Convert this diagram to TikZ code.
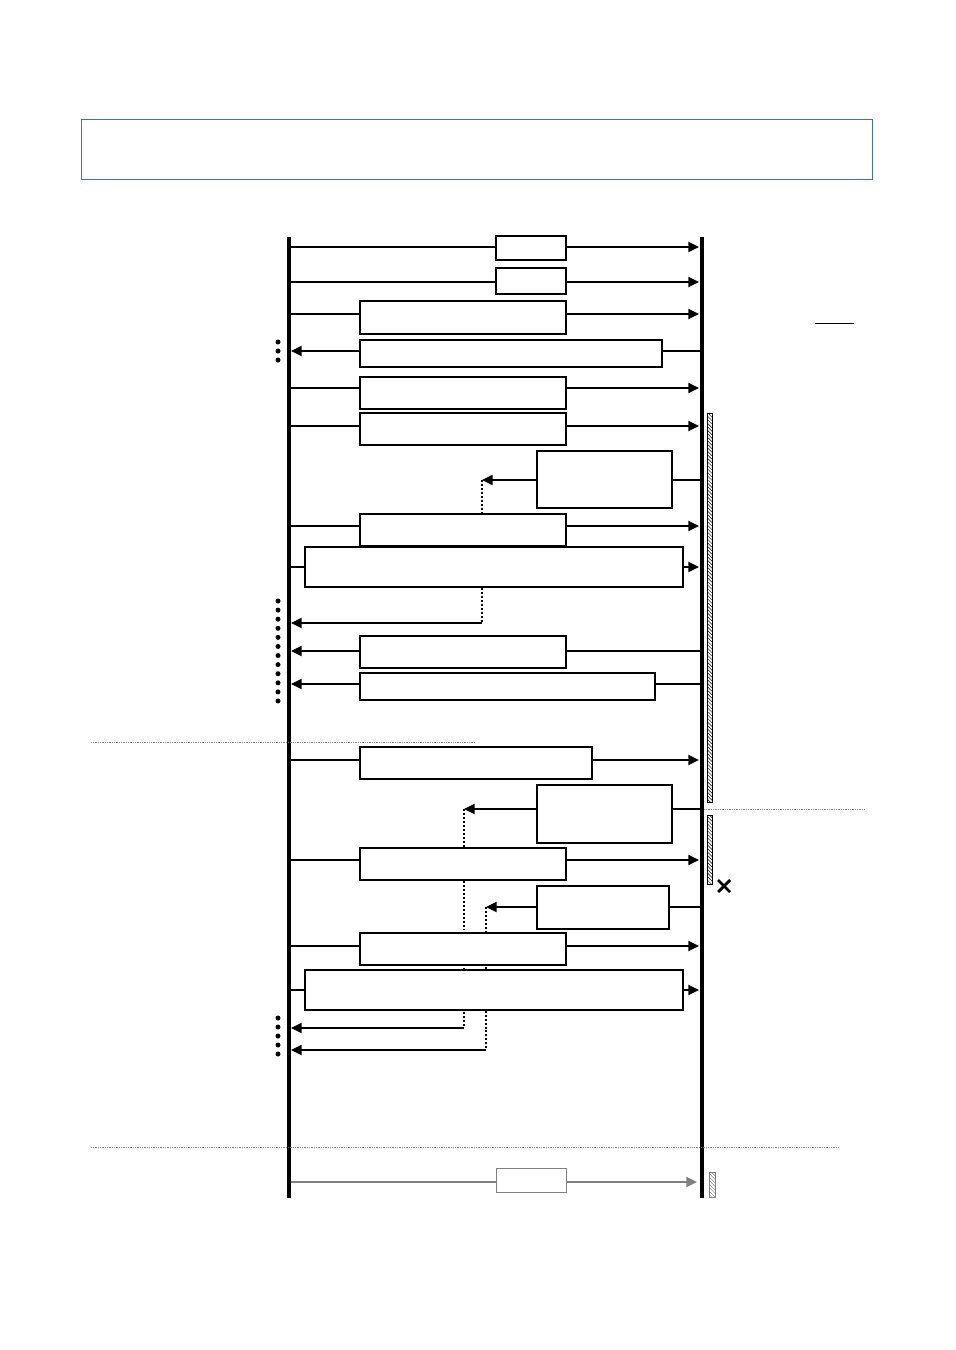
\documentclass[tikz,border=0pt]{standalone}
\usetikzlibrary{arrows.meta,fit,patterns}
\definecolor{hdrblue}{RGB}{65,105,225}
\pgfdeclarelayer{bg}
\pgfsetlayers{bg,main}
\tikzset{
  msgbox/.style={draw, line width=1.2pt, fill=white, inner sep=0pt},
  msg/.style={line width=1.6pt},
  toR/.style={msg, -{Triangle[length=3.2mm,width=3mm]}},
  toL/.style={msg, {Triangle[length=3.2mm,width=3mm]}-},
  reply/.style={line width=2pt, dash pattern=on 1.7pt off 1.7pt},
  sep/.style={gray, densely dotted, line width=0.5pt},
  busy/.style={draw, line width=0.8pt, pattern=north west lines}
}
\newcommand{\msgbox}[4][]{\node[msgbox, #1, fit={#3 #4}] (#2) {};}
\begin{document}
\begin{tikzpicture}[x=0.3mm, y=-0.3mm]
\useasboundingbox (0,0) rectangle (955,1350);
% header frame
\draw[hdrblue, line width=0.7pt] (81,119) rectangle (872,179);
% lifelines
\coordinate (Ltop) at (289,237); \coordinate (Lbot) at (289,1198);
\coordinate (Rtop) at (702,237); \coordinate (Rbot) at (702,1198);
\coordinate (L) at (291,0); \coordinate (R) at (699,0);
\draw[line width=2.6pt] (Ltop) -- (Lbot);
\draw[line width=3.4pt] (Rtop) -- (Rbot);
% first phase
\msgbox{m1}{(496,236)}{(566,260)}
\msgbox{m2}{(496,268)}{(566,294)}
\msgbox{m3}{(360,301)}{(566,334)}
\msgbox{m4}{(360,340)}{(662,367)}
\msgbox{m5}{(360,377)}{(566,409)}
\msgbox{m6}{(360,413)}{(566,445)}
\msgbox{r7}{(537,451)}{(672,508)}
\msgbox{m8}{(360,514)}{(566,546)}
\msgbox{m9}{(305,547)}{(683,587)}
\msgbox{m11}{(360,636)}{(566,668)}
\msgbox{m12}{(360,673)}{(655,700)}
% second phase
\msgbox{m13}{(360,747)}{(592,779)}
\msgbox{r14}{(537,785)}{(672,843)}
\msgbox{m15}{(360,848)}{(566,880)}
\msgbox{r16}{(537,886)}{(669,929)}
\msgbox{m17}{(360,933)}{(566,965)}
\msgbox{m18}{(305,970)}{(683,1010)}
% third phase
\msgbox[draw=gray, line width=0.8pt]{m20}{(496,1168)}{(566,1192)}
\coordinate (d1) at (482,480); \coordinate (d2) at (482,623);
\coordinate (d3) at (464,809); \coordinate (d4) at (464,1028);
\coordinate (d5) at (486,907); \coordinate (d6) at (486,1050);
\begin{pgfonlayer}{bg}
\foreach \b/\y in {m1/247,m2/282,m3/314,m5/388,m6/426,m8/526,m9/567,m13/760,m15/860,m17/946,m18/990} {
  \coordinate (h) at (0,\y);
  \draw[msg] (Ltop |- h) -- (\b.west |- h);
  \draw[toR] (\b.east |- h) -- (R |- h);
}
\foreach \b/\y in {m4/351,m11/651,m12/684} {
  \coordinate (h) at (0,\y);
  \draw[toL] (L |- h) -- (\b.west |- h);
  \draw[msg] (\b.east |- h) -- (Rtop |- h);
}
% replies
\draw[msg] (Rtop |- d1) -- (r7.east |- d1);
\draw[toR] (r7.west |- d1) -- (d1);
\draw[reply] (d1) -- (d1 |- m8.north);
\draw[reply] (d1 |- m9.south) -- (d2);
\draw[toL] (L |- d2) -- (d2);
\draw[msg] (Rtop |- d3) -- (r14.east |- d3);
\draw[toR] (r14.west |- d3) -- (d3);
\draw[reply] (d3) -- (d4);
\draw[toL] (L |- d4) -- (d4);
\draw[msg] (Rtop |- d5) -- (r16.east |- d5);
\draw[toR] (r16.west |- d5) -- (d5);
\draw[reply] (d5) -- (d6);
\draw[toL] (L |- d6) -- (d6);
% last call
\coordinate (h) at (0,1182);
\draw[msg, gray] (Ltop |- h) -- (m20.west |- h);
\draw[toR, gray] (m20.east |- h) -- (697,1182);
\end{pgfonlayer}
% dots on the left
\foreach \y in {342,351,360} \fill (278,\y) circle (2.5);
\foreach \i in {0,...,11} \fill (278,601+9.09*\i) circle (2.5);
\foreach \y in {1018,1027,1036,1045,1054} \fill (278,\y) circle (2.5);
% separators
\draw[sep] (91,742) -- (475,742);
\draw[sep] (704,809) -- (865,809);
\draw[sep] (91,1147) -- (838,1147);
% activation bars
\draw[busy] (707,413) rectangle (712,802);
\draw[busy] (707,815) rectangle (712,884);
\draw[busy, draw=gray, pattern color=gray] (709,1172) rectangle (715,1197);
% end mark
\draw[line width=2.4pt] (718,880) -- (730,892) (718,892) -- (730,880);
\draw[line width=0.8pt] (815,323) -- (854,323);
\end{tikzpicture}
\end{document}
